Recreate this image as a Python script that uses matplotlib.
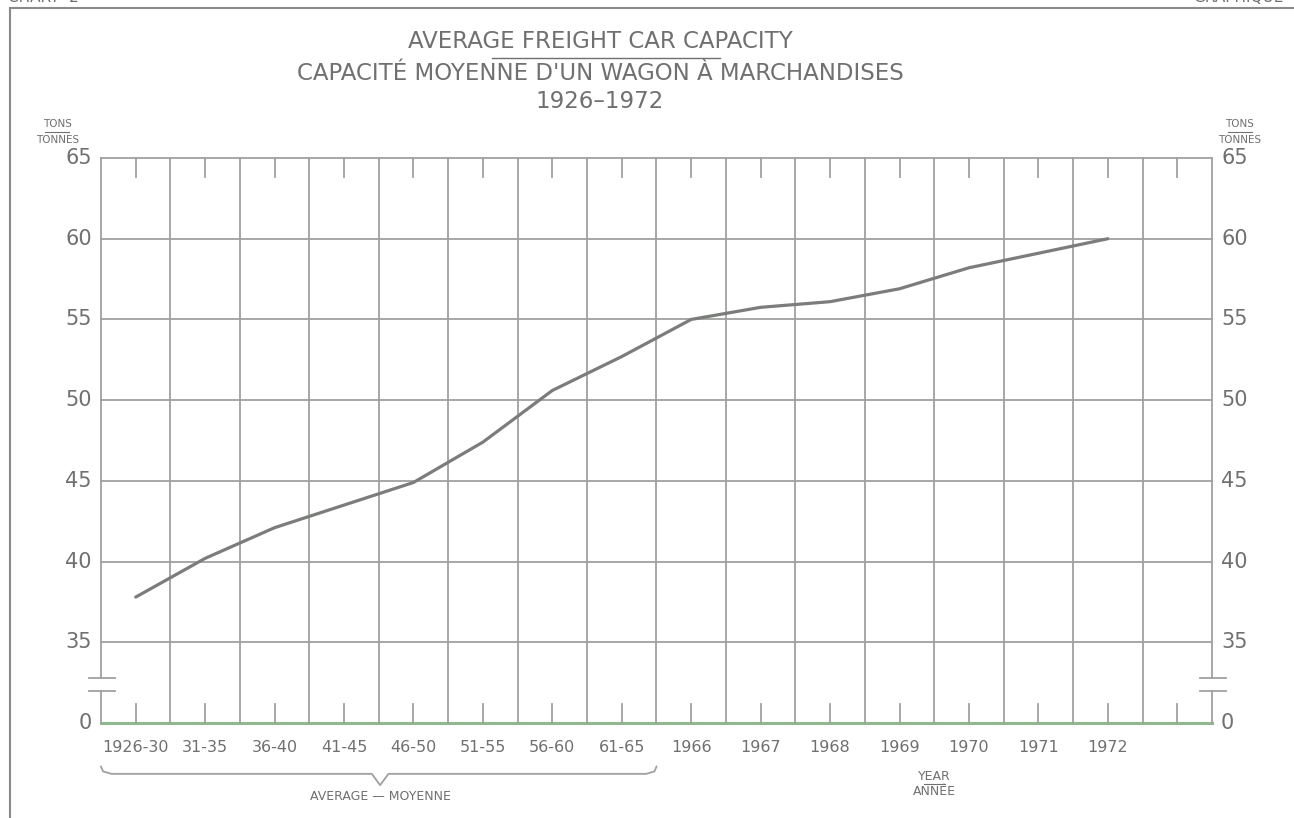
import matplotlib
matplotlib.use("Agg")
import matplotlib.pyplot as plt

# data (tons per car)
periods = ["1926-30", "31-35", "36-40", "41-45", "46-50", "51-55", "56-60", "61-65",
           "1966", "1967", "1968", "1969", "1970", "1971", "1972"]
capacity = [37.8, 40.2, 42.1, 43.5, 44.9, 47.4, 50.6, 52.7,
            55.0, 55.75, 56.1, 56.9, 58.2, 59.1, 60.0]
ytick_values = [35, 40, 45, 50, 55, 60, 65]
zero_pos = 30          # the "0" sits one grid step below 35 (broken axis)
n_cols = 16

TXT = "#707070"
GRID = "#a0a0a0"
LINE = "#7a7d7a"

fig = plt.figure(figsize=(12.94, 8.18), dpi=100)
ax = fig.add_axes([101 / 1294, 95 / 818, 1111 / 1294, 565 / 818])
ax.set_xlim(0, n_cols)
ax.set_ylim(zero_pos, 65)
ax.axis("off")

# grid
for v in ytick_values:
    ax.plot([0, n_cols], [v, v], color=GRID, lw=1.3, clip_on=False)
ax.plot([0, n_cols], [zero_pos, zero_pos], color="#8fb98f", lw=2.2, clip_on=False)
for i in range(1, n_cols):
    ax.plot([i, i], [zero_pos, 65], color=GRID, lw=1.3, clip_on=False)

# outer axes with break marks
brk_lo, brk_hi = 32.0, 32.8
for xe in (0, n_cols):
    ax.plot([xe, xe], [zero_pos, brk_lo], color=GRID, lw=1.3, clip_on=False)
    ax.plot([xe, xe], [brk_hi, 65], color=GRID, lw=1.3, clip_on=False)
    for yb in (brk_lo, brk_hi):
        ax.plot([xe - 0.17, xe + 0.2], [yb, yb], color=GRID, lw=1.3, clip_on=False)

# short ticks at column centres, top and bottom
for i in range(n_cols):
    c = i + 0.5
    ax.plot([c, c], [zero_pos, zero_pos + 1.2], color=GRID, lw=1.3, clip_on=False)
    ax.plot([c, c], [65, 63.8], color=GRID, lw=1.3, clip_on=False)

# data line
xs = [i + 0.5 for i in range(len(periods))]
ax.plot(xs, capacity, color=LINE, lw=2.3, solid_capstyle="round", zorder=5)

# y labels both sides
for v in ytick_values:
    ax.text(-0.13, v, str(v), ha="right", va="center", fontsize=15, color=TXT)
    ax.text(n_cols + 0.13, v, str(v), ha="left", va="center", fontsize=15, color=TXT)
ax.text(-0.13, zero_pos, "0", ha="right", va="center", fontsize=15, color=TXT)
ax.text(n_cols + 0.13, zero_pos, "0", ha="left", va="center", fontsize=15, color=TXT)

# x labels
for x, lab in zip(xs, periods):
    ax.text(x, zero_pos - 1.5, lab, ha="center", va="center", fontsize=11.5, color=TXT)

# brace under the averaged periods
by, bt = 26.85, 26.15
ax.plot([0, 0.03, 0.15, 3.9, 4.02, 4.14, 7.85, 7.97, 8.0],
        [27.3, 27.0, by, by, bt, by, by, 27.0, 27.3],
        color=GRID, lw=1.3, clip_on=False)
ax.text(4.02, 25.45, "AVERAGE \u2014 MOYENNE", ha="center", va="center",
        fontsize=9, color=TXT)

# YEAR / ANNEE
ax.text(12.0, 26.7, "YEAR", ha="center", va="center", fontsize=9, color=TXT)
ax.plot([11.85, 12.15], [26.2, 26.2], color=TXT, lw=0.8, clip_on=False)
ax.text(12.0, 25.75, "ANNÉE", ha="center", va="center", fontsize=9, color=TXT)

# TONS / TONNES units
for xu in (-0.63, n_cols + 0.4):
    ax.text(xu, 67.1, "TONS", ha="center", va="center", fontsize=7.5, color=TXT)
    ax.plot([xu - 0.17, xu + 0.17], [66.6, 66.6], color=TXT, lw=0.8, clip_on=False)
    ax.text(xu, 66.1, "TONNES", ha="center", va="center", fontsize=7.5, color=TXT)

# titles
fig.text(600 / 1294, 1 - 42 / 818, "AVERAGE FREIGHT CAR CAPACITY", ha="center",
         va="center", fontsize=16.5, color=TXT)
fig.lines.append(plt.Line2D([492 / 1294, 720 / 1294], [1 - 58 / 818, 1 - 58 / 818],
                            transform=fig.transFigure, color=TXT, lw=1.0))
fig.text(600 / 1294, 1 - 74 / 818, "CAPACITÉ MOYENNE D'UN WAGON À MARCHANDISES",
         ha="center", va="center", fontsize=16.5, color=TXT)
fig.text(600 / 1294, 1 - 102 / 818, "1926\u20131972", ha="center", va="center",
         fontsize=16.5, color=TXT)

# page frame and cropped header (cut off at the top edge, as in the scan)
fig.lines.append(plt.Line2D([10 / 1294, 10 / 1294], [0, 1 - 8 / 818],
                            transform=fig.transFigure, color="#8a8a8a", lw=1.5))
fig.lines.append(plt.Line2D([10 / 1294, 1], [1 - 8 / 818, 1 - 8 / 818],
                            transform=fig.transFigure, color="#8a8a8a", lw=1.5))
fig.text(8 / 1294, 1 + 2 / 818, "CHART  2", ha="left", va="center", fontsize=11, color=TXT)
fig.text(1284 / 1294, 1 + 2 / 818, "GRAPHIQUE", ha="right", va="center", fontsize=11, color=TXT)

fig.savefig("out.png", dpi=100, facecolor="white")
